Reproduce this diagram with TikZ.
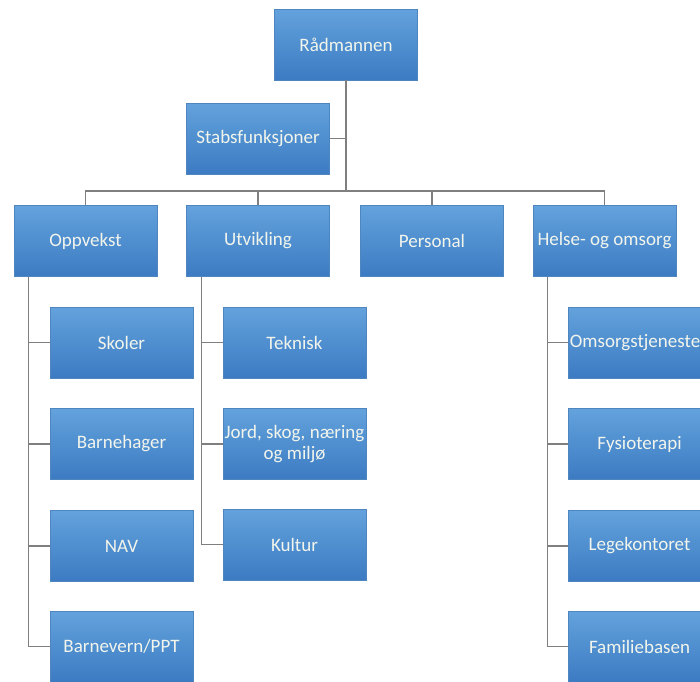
\documentclass[tikz,border=0pt]{standalone}
\usepackage{fontspec}
\setmainfont{Carlito}
\definecolor{boxtop}{HTML}{63A2DC}
\definecolor{boxbot}{HTML}{3C7BC2}
\definecolor{boxline}{HTML}{4F86C0}
\definecolor{connline}{HTML}{7F7F7F}
\definecolor{boxtext}{HTML}{F2F5EC}
\tikzset{
  orgbox/.style={rectangle, minimum width=143pt, minimum height=71pt, inner sep=0pt,
    top color=boxtop, bottom color=boxbot, draw=boxline, line width=0.6pt,
    text=boxtext, align=center, font=\fontsize{19}{21}\selectfont},
  conn/.style={draw=connline, line width=1.3pt}
}
\begin{document}
\begin{tikzpicture}[x=1pt,y=-1pt]
\useasboundingbox (0,0) rectangle (700,681);
\fill[white] (0,0) rectangle (700,681);
\clip (0,0) rectangle (700,681);
% level 0/1
\node[orgbox] (rad) at (346,44.5) {Rådmannen};
\node[orgbox] (stab) at (258,138.5) {Stabsfunksjoner};
% level 2
\node[orgbox] (opp) at (85.5,241) {Oppvekst};
\node[orgbox] (utv) at (258,241) {Utvikling};
\node[orgbox] (per) at (432,241) {Personal};
\node[orgbox] (hel) at (604.5,241) {Helse- og omsorg};
% level 3
\node[orgbox] (sko) at (121.5,342.5) {Skoler};
\node[orgbox] (bar) at (121.5,444) {Barnehager};
\node[orgbox] (nav) at (121.5,546) {NAV};
\node[orgbox] (bv) at (121.5,646.5) {Barnevern/PPT};
\node[orgbox] (tek) at (294.5,342.5) {Teknisk};
\node[orgbox] (jord) at (294.5,444) {Jord, skog, næring\\og miljø};
\node[orgbox] (kul) at (294.5,544.5) {Kultur};
\node[orgbox] (oms) at (639.5,342.5) {Omsorgstjeneste\hspace*{9pt}};
\node[orgbox] (fys) at (639.5,444) {Fysioterapi};
\node[orgbox] (leg) at (639.5,546) {Legekontoret};
\node[orgbox] (fam) at (639.5,646.5) {Familiebasen};
% connectors
\coordinate (bus) at (346,191);
\draw[conn] (rad.south) -- (bus);
\draw[conn] (stab.east) -- (stab.east -| rad.south);
\draw[conn] (bus) -| (opp.north);
\draw[conn] (bus) -| (utv.north);
\draw[conn] (bus) -| (per.north);
\draw[conn] (bus) -| (hel.north);
\coordinate (oppd) at ([xshift=15pt]opp.south west);
\coordinate (utvd) at ([xshift=15pt]utv.south west);
\coordinate (held) at ([xshift=15pt]hel.south west);
\draw[conn] (oppd) |- (bv.west);
\draw[conn] (oppd) |- (sko.west);
\draw[conn] (oppd) |- (bar.west);
\draw[conn] (oppd) |- (nav.west);
\draw[conn] (utvd) |- (kul.west);
\draw[conn] (utvd) |- (tek.west);
\draw[conn] (utvd) |- (jord.west);
\draw[conn] (held) |- (fam.west);
\draw[conn] (held) |- (oms.west);
\draw[conn] (held) |- (fys.west);
\draw[conn] (held) |- (leg.west);
\end{tikzpicture}
\end{document}
